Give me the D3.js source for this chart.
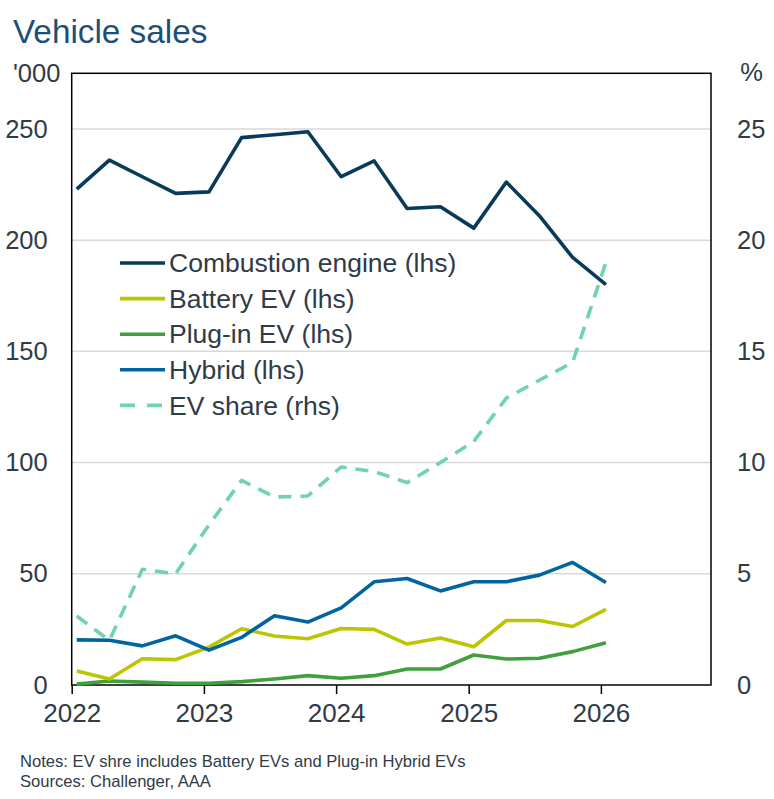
<!DOCTYPE html>
<html>
<head>
<meta charset="utf-8">
<script src="https://cdn.jsdelivr.net/npm/d3@7"></script>
<style>
  html, body { margin: 0; padding: 0; background: #fff; }
  svg { display: block; font-family: "Liberation Sans", Arial, sans-serif; }
</style>
</head>
<body>
<svg id="chart" width="774" height="799"></svg>
<script>
const dates = ["2022-01-15","2022-04-15","2022-07-15","2022-10-15",
               "2023-01-15","2023-04-15","2023-07-15","2023-10-15",
               "2024-01-15","2024-04-15","2024-07-15","2024-10-15",
               "2025-01-15","2025-04-15","2025-07-15","2025-10-15",
               "2026-01-15"];
const combustion = [222.9, 236.0, 228.5, 221.0, 221.7, 246.1, 247.4, 248.7, 228.5, 235.6, 214.2, 215.0, 205.4, 226.1, 211.0, 192.2, 180.0];
const batteryEV  = [6.3, 2.7, 11.8, 11.4, 17.0, 25.3, 22.0, 20.8, 25.4, 25.0, 18.4, 21.1, 17.2, 29.0, 29.0, 26.3, 34.0];
const plugInEV   = [0.4, 1.8, 1.3, 0.8, 0.8, 1.5, 2.7, 4.2, 3.0, 4.2, 7.2, 7.2, 13.5, 11.7, 12.0, 15.0, 19.0];
const hybrid     = [20.3, 20.1, 17.6, 22.1, 15.7, 21.4, 31.1, 28.3, 34.7, 46.4, 47.9, 42.3, 46.4, 46.4, 49.4, 55.1, 46.1];
const evShare    = [3.1, 2.0, 5.2, 5.0, 7.2, 9.2, 8.45, 8.5, 9.8, 9.6, 9.1, 10.0, 10.95, 12.9, 13.7, 14.5, 19.0];

const leftTicks  = [0, 50, 100, 150, 200, 250];
const rightTicks = [0, 5, 10, 15, 20, 25];
const yearTicks  = ["2022", "2023", "2024", "2025", "2026"];

const seriesNames = ["Combustion engine (lhs)", "Battery EV (lhs)", "Plug-in EV (lhs)", "Hybrid (lhs)", "EV share (rhs)"];
const seriesColors = ["#093a5a", "#bcc500", "#41a03e", "#0064a0", "#6fd2b0"];

const svg = d3.select("#chart");
const plot = { left: 71.7, right: 711, top: 73.3, bottom: 685 };
const textColor = "#2f3b46";
const parse = d3.timeParse("%Y-%m-%d");
const xDates = dates.map(parse);

const x = d3.scaleTime()
  .domain([parse("2022-01-01"), parse("2026-11-01")])
  .range([plot.left, plot.right]);
const yL = d3.scaleLinear().domain([0, 275]).range([plot.bottom, plot.top]);
const yR = d3.scaleLinear().domain([0, 27.5]).range([plot.bottom, plot.top]);

// Title
svg.append("text").attr("x", 13).attr("y", 43)
  .attr("font-size", 33.3).attr("fill", "#1d4f78").text("Vehicle sales");

// Gridlines
svg.append("g").selectAll("line").data(leftTicks.filter(d => d > 0)).join("line")
  .attr("x1", plot.left).attr("x2", plot.right)
  .attr("y1", d => yL(d)).attr("y2", d => yL(d))
  .attr("stroke", "#d9d9d9").attr("stroke-width", 1.5);

// Left axis labels
const leftAxis = d3.axisLeft(yL).tickValues(leftTicks).tickSize(0).tickPadding(24);
const gl = svg.append("g").attr("transform", `translate(${plot.left},0)`).call(leftAxis);
gl.select(".domain").remove();
gl.selectAll("text").attr("font-size", 25.5).attr("fill", textColor)
  .attr("font-family", "Liberation Sans, Arial, sans-serif");

// Right axis labels
const rightAxis = d3.axisRight(yR).tickValues(rightTicks).tickSize(0).tickPadding(26);
const gr = svg.append("g").attr("transform", `translate(${plot.right},0)`).call(rightAxis);
gr.select(".domain").remove();
gr.selectAll("text").attr("font-size", 25.5).attr("fill", textColor)
  .attr("font-family", "Liberation Sans, Arial, sans-serif");

// Bottom axis
const bottomAxis = d3.axisBottom(x)
  .tickValues(yearTicks.map(y => parse(y + "-01-01")))
  .tickFormat(d3.timeFormat("%Y")).tickSize(9).tickPadding(10).tickSizeOuter(0);
const gb = svg.append("g").attr("transform", `translate(0,${plot.bottom})`).call(bottomAxis);
gb.select(".domain").remove();
gb.selectAll("line").attr("stroke", "#000").attr("stroke-width", 1.5);
gb.selectAll("text").attr("font-size", 26).attr("fill", textColor)
  .attr("font-family", "Liberation Sans, Arial, sans-serif");

// Unit labels
svg.append("text").attr("x", 13).attr("y", 82).attr("font-size", 25.5)
  .attr("fill", textColor).text("'000");
svg.append("text").attr("x", 763).attr("y", 81).attr("font-size", 25.5)
  .attr("text-anchor", "end").attr("fill", textColor).text("%");

// Frame
svg.append("rect").attr("x", plot.left).attr("y", plot.top)
  .attr("width", plot.right - plot.left).attr("height", plot.bottom - plot.top)
  .attr("fill", "none").attr("stroke", "#000").attr("stroke-width", 1.5);

// Lines
const lhsSeries = [combustion, batteryEV, plugInEV, hybrid];
const drawOrder = [2, 1, 3, 0];
const lineL = d3.line().x((d, i) => x(xDates[i])).y(d => yL(d));
const lineR = d3.line().x((d, i) => x(xDates[i])).y(d => yR(d));

const lines = svg.append("g");
drawOrder.forEach(k => {
  lines.append("path").datum(lhsSeries[k]).attr("d", lineL)
    .attr("fill", "none").attr("stroke", seriesColors[k]).attr("stroke-width", 3.6)
    .attr("stroke-linejoin", "round");
});
lines.append("path").datum(evShare).attr("d", lineR)
  .attr("fill", "none").attr("stroke", seriesColors[4]).attr("stroke-width", 3.6)
  .attr("stroke-dasharray", "13,9").attr("stroke-linejoin", "round");

// Legend
const legend = svg.append("g");
seriesNames.forEach((name, i) => {
  const yy = 263 + i * 35.6;
  legend.append("line").attr("x1", 120).attr("x2", 165).attr("y1", yy).attr("y2", yy)
    .attr("stroke", seriesColors[i]).attr("stroke-width", 3.6)
    .attr("stroke-dasharray", i === 4 ? "15,12" : null);
  legend.append("text").attr("x", 169).attr("y", yy).attr("dy", "0.35em")
    .attr("font-size", 26.5).attr("fill", textColor).text(name);
});

// Notes
svg.append("text").attr("x", 20).attr("y", 767).attr("font-size", 16.6)
  .attr("fill", textColor).text("Notes: EV shre includes Battery EVs and Plug-in Hybrid EVs");
svg.append("text").attr("x", 20).attr("y", 787).attr("font-size", 16.6)
  .attr("fill", textColor).text("Sources: Challenger, AAA");
</script>
</body>
</html>
